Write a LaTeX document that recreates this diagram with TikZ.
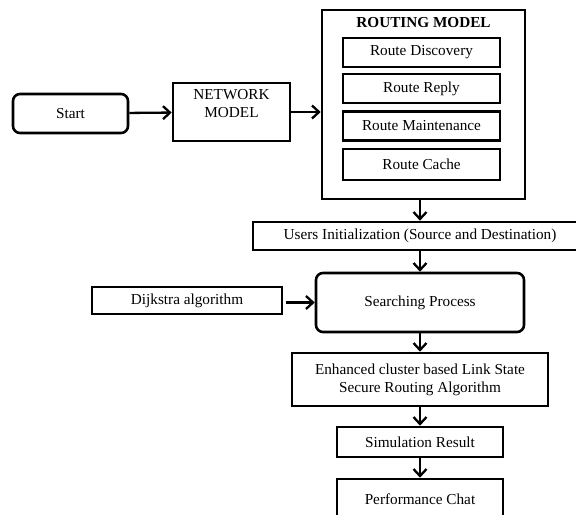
\documentclass[tikz,border=0pt]{standalone}
\usepackage{fontspec}
\setmainfont{Liberation Serif}
\usepackage{tikz}
\usetikzlibrary{positioning,arrows.meta}

\begin{document}
\begin{tikzpicture}[x=1bp, y=-1bp, font=\fontsize{15.3}{18}\selectfont]
            \tikzstyle{block} = [draw=black, line width=2.6bp, inner sep=0pt, align=center];
            \tikzstyle{soft} = [block, rounded corners=7bp];
            \tikzstyle{flow} = [line width=2.3bp, -{Straight Barb[length=7bp, width=13bp, line width=2.3bp]}];
            \useasboundingbox (0,0) rectangle (576,515);
            \clip (0,0) rectangle (576,515);

            \node [soft, minimum width=115bp, minimum height=39bp] (Start) at (70.5,113.5) {Start};
            \node [block, minimum width=117bp, minimum height=58bp] (Net) at (231.5,112) {NETWORK\\MODEL\\ \mbox{}};

            \node [block, minimum width=203bp, minimum height=189bp] (Routing) at (423.5,104.5) {};
            \node (Title) at (423.5,23) {\bfseries ROUTING MODEL};
            \node [block, minimum width=157bp, minimum height=29bp] (R1) at (421.5,52.5) {Route Discovery};
            \node [block, minimum width=157bp, minimum height=29bp] (R2) at (421.5,88.5) {Route Reply};
            \node [block, minimum width=157bp, minimum height=29bp] (R3) at (421.5,126) {Route Maintenance};
            \node [block, minimum width=157bp, minimum height=31bp] (R4) at (421.5,164.5) {Route Cache};

            \node [block, minimum width=334bp, minimum height=28bp] (Users) at (420,236) {Users Initialization (Source and Destination)};
            \node [soft, minimum width=208bp, minimum height=59bp] (Search) at (420,302.5) {Searching Process};
            \node [block, minimum width=190bp, minimum height=27bp] (Dijk) at (187,300.5) {Dijkstra algorithm};
            \node [block, minimum width=256bp, minimum height=53bp] (Enh) at (420,379.5) {Enhanced cluster based Link State\\Secure Routing Algorithm};
            \node [block, minimum width=166bp, minimum height=30bp] (Sim) at (420,442) {Simulation Result};
            \node [block, minimum width=166bp, minimum height=40bp] (Perf) at (420,499) {Performance Chat};

            \draw [flow] (Start) to (Net);
            \draw [flow] (Net) to (Net -| Routing.west);
            \draw [flow] (Users.north |- Routing.south) to (Users.north);
            \draw [flow] (Users) to (Search);
            \draw [flow, shorten <=3bp] (Dijk.east |- Search) to (Search.west);
            \draw [flow] (Search) to (Enh);
            \draw [flow] (Enh) to (Sim);
            \draw [flow] (Sim) to (Perf);
\end{tikzpicture}
\end{document}
